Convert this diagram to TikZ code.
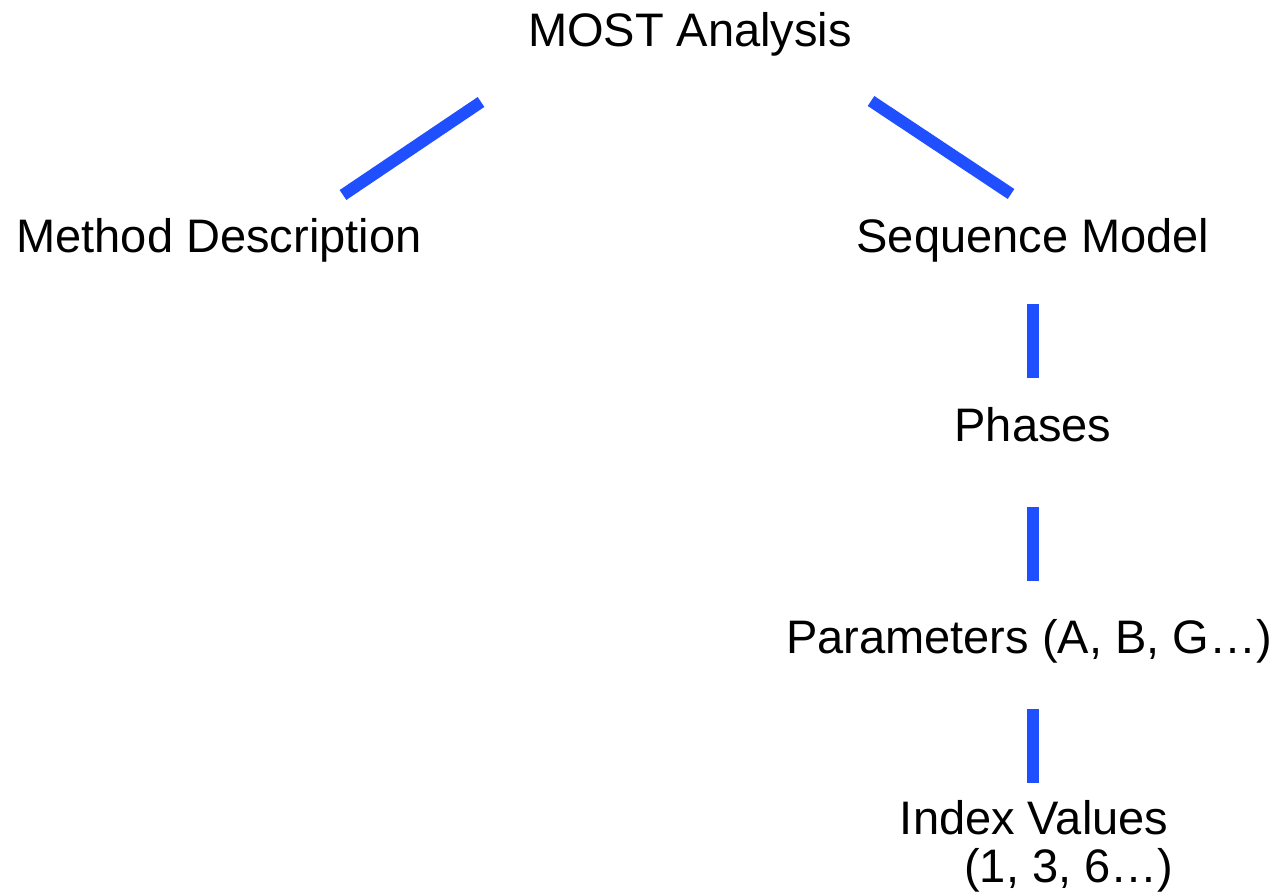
\documentclass[tikz,border=0pt]{standalone}
\usepackage{fontspec}
\setmainfont{Liberation Sans}
\definecolor{linkblue}{RGB}{31,79,255}
\begin{document}
\begin{tikzpicture}[x=0.01cm,y=-0.01cm,
	    lbl/.style={inner sep=0,font=\fontsize{13.37pt}{13.37pt}\selectfont},
	    link/.style={draw=linkblue,line width=3.4pt}]
	    \useasboundingbox (0,0) rectangle (1283,892);
	    \node[lbl,anchor=base](root) at (690,47){MOST Analysis};
	    \node[lbl,anchor=base](mdesc) at (219,253){Method Description};
	    \node[lbl,anchor=base](seq) at (1033,253){Sequence Model};
	    \node[lbl,anchor=base](phases) at (1033,442){Phases};
	    \node[lbl,anchor=base](params) at (1029,653){Parameters (A, B, G\dots)};
	    \node[lbl,anchor=base east,align=right](index) at (1169,882){Index Values\\(1, 3, 6\dots)\kern-0.05cm};
	    \draw[link]([shift={(-209,55)}]root.base)--([shift={(124,-58)}]mdesc.base);
	    \draw[link]([shift={(181,54)}]root.base)--([shift={(-22,-59)}]seq.base);
	    \draw[link]([shift={(0,51)}]seq.base)--([shift={(0,-64)}]phases.base);
	    \draw[link]([shift={(0,65)}]phases.base)--([shift={(4,-72)}]params.base);
	    \draw[link]([shift={(4,56)}]params.base)--([shift={(-136,-99)}]index.base east);
	\end{tikzpicture}
\end{document}
